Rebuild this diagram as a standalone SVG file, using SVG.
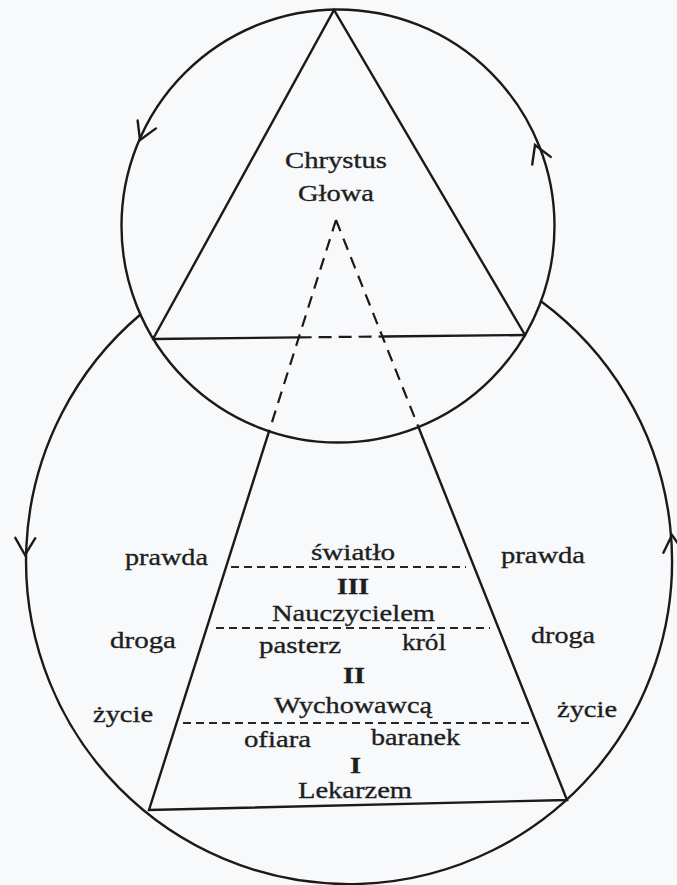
<svg xmlns="http://www.w3.org/2000/svg" xmlns:xlink="http://www.w3.org/1999/xlink" width="677" height="885" viewBox="0 0 677 885">
<style>
.ln{fill:none;stroke:#1a1a1a;stroke-width:2.4;stroke-linecap:round}
.dside{fill:none;stroke:#1a1a1a;stroke-width:2.2;stroke-dasharray:12 8}
.drow{fill:none;stroke:#262626;stroke-width:1.8;stroke-dasharray:8 5}
.chev{fill:none;stroke:#1a1a1a;stroke-width:2.4;stroke-linecap:round;stroke-linejoin:miter}
text{font-family:"Liberation Serif","Times New Roman",serif;font-size:24px;fill:#1e1e1e;stroke:#1e1e1e;stroke-width:0.35}
.b{font-weight:bold}
</style>
<defs>
<path id="chev" class="chev" d="M -17 -10 L 0 0 L -17 10"/>
</defs>
<rect width="677" height="885" fill="#f8f9fb"/>

<g id="circle-top">
<circle class="ln" cx="338" cy="226" r="216.5"/>
<use xlink:href="#chev" transform="translate(140,140) rotate(113.5)"/>
<use xlink:href="#chev" transform="translate(535,145) rotate(-112.4)"/>
</g>

<g id="circle-big">
<path class="ln" d="M 140.4 314.5 A 323 323 0 1 0 541 301.3"/>
<use xlink:href="#chev" transform="translate(25,555) rotate(91)"/>
<use xlink:href="#chev" transform="translate(672,535) rotate(-94.6)"/>
</g>

<g id="triangle-top">
<path class="ln" d="M 153 339 L 334 10 L 525 335"/>
<path class="ln" d="M 153 339 L 298.6 337.4"/>
<path class="ln" d="M 383 336.5 L 525 335"/>
<path class="dside" d="M 298.6 337.4 L 383 336.5" style="stroke-dasharray:13 7"/>
</g>

<g id="triangle-bottom">
<path class="dside" d="M 336 220 L 269.1 431.2"/>
<path class="dside" d="M 336 220 L 418.4 427"/>
<path class="ln" d="M 269.1 431.2 L 149 810 L 567 800 L 418.4 427"/>
</g>

<g id="rows">
<path class="drow" d="M 231 567 L 466 567"/>
<path class="drow" d="M 216 628 L 490 628"/>
<path class="drow" d="M 183 723 L 529 723"/>
</g>

<g id="labels-top">
<text x="285" y="168" textLength="102" lengthAdjust="spacingAndGlyphs">Chrystus</text>
<text x="298" y="201" textLength="76" lengthAdjust="spacingAndGlyphs">Głowa</text>
</g>

<g id="level-III">
<text x="125" y="565" textLength="83" lengthAdjust="spacingAndGlyphs">prawda</text>
<text x="311" y="560" textLength="84" lengthAdjust="spacingAndGlyphs">światło</text>
<text x="501" y="563" textLength="84" lengthAdjust="spacingAndGlyphs">prawda</text>
<text class="b" x="337" y="594" textLength="32" lengthAdjust="spacingAndGlyphs">III</text>
<text x="272" y="621" textLength="163" lengthAdjust="spacingAndGlyphs">Nauczycielem</text>
</g>

<g id="level-II">
<text x="110" y="648" textLength="66" lengthAdjust="spacingAndGlyphs">droga</text>
<text x="259" y="653" textLength="82" lengthAdjust="spacingAndGlyphs">pasterz</text>
<text x="402" y="650" textLength="44" lengthAdjust="spacingAndGlyphs">król</text>
<text x="531" y="643" textLength="64" lengthAdjust="spacingAndGlyphs">droga</text>
<text class="b" x="343" y="683" textLength="22" lengthAdjust="spacingAndGlyphs">II</text>
<text x="274" y="713" textLength="158" lengthAdjust="spacingAndGlyphs">Wychowawcą</text>
</g>

<g id="level-I">
<text x="93" y="722" textLength="60" lengthAdjust="spacingAndGlyphs">życie</text>
<text x="557" y="717" textLength="60" lengthAdjust="spacingAndGlyphs">życie</text>
<text x="244" y="747" textLength="67" lengthAdjust="spacingAndGlyphs">ofiara</text>
<text x="371" y="745" textLength="89" lengthAdjust="spacingAndGlyphs">baranek</text>
<text class="b" x="350" y="773" textLength="11" lengthAdjust="spacingAndGlyphs">I</text>
<text x="298" y="798" textLength="114" lengthAdjust="spacingAndGlyphs">Lekarzem</text>
</g>
</svg>
